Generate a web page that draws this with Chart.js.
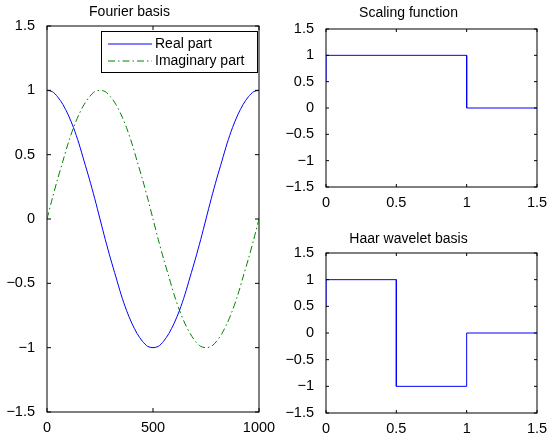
<!DOCTYPE html>
<html>
<head>
<meta charset="utf-8">
<script src="https://cdn.jsdelivr.net/npm/chart.js@4.4.1/dist/chart.umd.min.js"></script>
<style>
  body { margin: 0; background: #fff; }
  .panel { position: absolute; }
</style>
</head>
<body>
<canvas id="fourierChart" class="panel" width="280" height="443" style="left:0;top:0"></canvas>
<canvas id="scalingChart" class="panel" width="277" height="220" style="left:280px;top:0"></canvas>
<canvas id="haarChart" class="panel" width="277" height="223" style="left:280px;top:220px"></canvas>
<script>
// Fourier basis, every 25 samples
const fourierT = [0, 25, 50, 75, 100, 125, 150, 175, 200, 225, 250, 275, 300, 325, 350, 375, 400, 425, 450, 475,
                  500, 525, 550, 575, 600, 625, 650, 675, 700, 725, 750, 775, 800, 825, 850, 875, 900, 925, 950, 975, 1000];
const realPart = [1, 0.99, 0.95, 0.89, 0.81, 0.71, 0.59, 0.45, 0.31, 0.16, 0, -0.16, -0.31, -0.45, -0.59, -0.71, -0.81, -0.89, -0.95, -0.99,
                  -1, -0.99, -0.95, -0.89, -0.81, -0.71, -0.59, -0.45, -0.31, -0.16, 0, 0.16, 0.31, 0.45, 0.59, 0.71, 0.81, 0.89, 0.95, 0.99, 1];
const imagPart = [0, 0.16, 0.31, 0.45, 0.59, 0.71, 0.81, 0.89, 0.95, 0.99, 1, 0.99, 0.95, 0.89, 0.81, 0.71, 0.59, 0.45, 0.31, 0.16,
                  0, -0.16, -0.31, -0.45, -0.59, -0.71, -0.81, -0.89, -0.95, -0.99, -1, -0.99, -0.95, -0.89, -0.81, -0.71, -0.59, -0.45, -0.31, -0.16, 0];

// Haar step functions (corner points)
const scalingX = [0, 0, 1, 1, 1.5];
const scalingY = [0.5, 1, 1, 0, 0];
const waveletX = [0, 0, 0.5, 0.5, 1, 1, 1.5];
const waveletY = [0.5, 1, 1, -1, -1, 0, 0];

// tick labels
const yTicks = [-1.5, -1, -0.5, 0, 0.5, 1, 1.5];
const fourierXTicks = [0, 500, 1000];
const haarXTicks = [0, 0.5, 1, 1.5];

const BLUE = '#0000ff';
const GREEN = '#008000';

Chart.defaults.font.family = '"Liberation Sans", Arial, Helvetica, sans-serif';
Chart.defaults.color = '#000';

const toPoints = (xs, ys) => xs.map((x, i) => ({ x: x, y: ys[i] }));
const minus = v => String(v).replace('-', '\u2212');

// MATLAB style axes box, inward ticks and boxed legend
const matlabBox = {
  id: 'matlabBox',
  beforeDatasetsDraw(chart) {
    const a = chart.chartArea;
    const ctx = chart.ctx;
    ctx.save();
    ctx.strokeStyle = '#000';
    ctx.lineWidth = 1;
    ctx.strokeRect(a.left, a.top, a.right - a.left, a.bottom - a.top);
    ctx.restore();
  },
  afterDatasetsDraw(chart, args, opts) {
    const a = chart.chartArea;
    const ctx = chart.ctx;
    const len = opts.tickLen || 3;
    ctx.save();
    ctx.strokeStyle = '#000';
    ctx.lineWidth = 1;
    ctx.beginPath();
    chart.scales.x.ticks.forEach(t => {
      const px = chart.scales.x.getPixelForValue(t.value);
      ctx.moveTo(px, a.bottom); ctx.lineTo(px, a.bottom - len);
      ctx.moveTo(px, a.top); ctx.lineTo(px, a.top + len);
    });
    chart.scales.y.ticks.forEach(t => {
      const py = chart.scales.y.getPixelForValue(t.value);
      ctx.moveTo(a.left, py); ctx.lineTo(a.left + len, py);
      ctx.moveTo(a.right, py); ctx.lineTo(a.right - len, py);
    });
    ctx.stroke();

    if (opts.legend) {
      const L = opts.legend;
      ctx.fillStyle = '#fff';
      ctx.fillRect(L.x, L.y, L.w, L.h);
      ctx.strokeRect(L.x + 0.5, L.y + 0.5, L.w, L.h);
      ctx.font = '14px ' + Chart.defaults.font.family;
      ctx.textBaseline = 'middle';
      chart.data.datasets.forEach((ds, i) => {
        const y = L.y + L.rowTop + i * L.rowGap;
        ctx.strokeStyle = ds.borderColor;
        ctx.setLineDash(ds.borderDash || []);
        ctx.beginPath();
        ctx.moveTo(L.x + 7, y);
        ctx.lineTo(L.x + 51, y);
        ctx.stroke();
        ctx.setLineDash([]);
        ctx.fillStyle = '#000';
        ctx.fillText(ds.label, L.x + 54, y);
      });
    }
    ctx.restore();
  }
};

function makeChart(id, cfg) {
  return new Chart(document.getElementById(id), {
    type: 'line',
    data: { datasets: cfg.datasets },
    options: {
      responsive: false,
      animation: false,
      layout: { padding: { left: 0, right: cfg.rightPad, top: 0, bottom: 0 } },
      elements: { point: { radius: 0 }, line: { borderWidth: 1 } },
      scales: {
        x: {
          type: 'linear',
          min: cfg.xTicks[0],
          max: cfg.xTicks[cfg.xTicks.length - 1],
          grid: { display: false },
          border: { display: false },
          afterBuildTicks: s => { s.ticks = cfg.xTicks.map(v => ({ value: v })); },
          afterFit: s => { s.height = cfg.xAxisH; },
          ticks: { font: { size: 14.5 }, padding: -1, maxRotation: 0, autoSkip: false, callback: v => minus(v) }
        },
        y: {
          type: 'linear',
          min: -1.5,
          max: 1.5,
          grid: { display: false },
          border: { display: false },
          afterBuildTicks: s => { s.ticks = yTicks.map(v => ({ value: v })); },
          afterFit: s => { s.width = cfg.yAxisW; },
          ticks: { font: { size: 14.5 }, padding: 4, callback: v => minus(v) }
        }
      },
      plugins: {
        legend: { display: false },
        tooltip: { enabled: false },
        title: {
          display: true,
          text: cfg.title,
          font: { size: 14, weight: 'normal', lineHeight: 1.2 },
          padding: cfg.titlePad
        },
        matlabBox: { tickLen: cfg.tickLen, legend: cfg.legend }
      }
    },
    plugins: [matlabBox]
  });
}

makeChart('fourierChart', {
  title: 'Fourier basis',
  titlePad: { top: 3.6, bottom: 5.6 },
  xTicks: fourierXTicks,
  xAxisH: 31,
  yAxisW: 47,
  rightPad: 21,
  tickLen: 4,
  legend: { x: 101, y: 31, w: 156, h: 41, rowTop: 13, rowGap: 17 },
  datasets: [
    { label: 'Real part', data: toPoints(fourierT, realPart), borderColor: BLUE, tension: 0.3 },
    { label: 'Imaginary part', data: toPoints(fourierT, imagPart), borderColor: GREEN, borderDash: [7, 3, 1.5, 3], tension: 0.3 }
  ]
});

makeChart('scalingChart', {
  title: 'Scaling function',
  titlePad: { top: 5.1, bottom: 7.1 },
  xTicks: haarXTicks,
  xAxisH: 33,
  yAxisW: 46,
  rightPad: 20,
  tickLen: 3,
  datasets: [
    { label: 'Scaling', data: toPoints(scalingX, scalingY), borderColor: BLUE, tension: 0 }
  ]
});

makeChart('haarChart', {
  title: 'Haar wavelet basis',
  titlePad: { top: 10.6, bottom: 5.6 },
  xTicks: haarXTicks,
  xAxisH: 30,
  yAxisW: 46,
  rightPad: 20,
  tickLen: 3,
  datasets: [
    { label: 'Wavelet', data: toPoints(waveletX, waveletY), borderColor: BLUE, tension: 0 }
  ]
});
</script>
</body>
</html>
